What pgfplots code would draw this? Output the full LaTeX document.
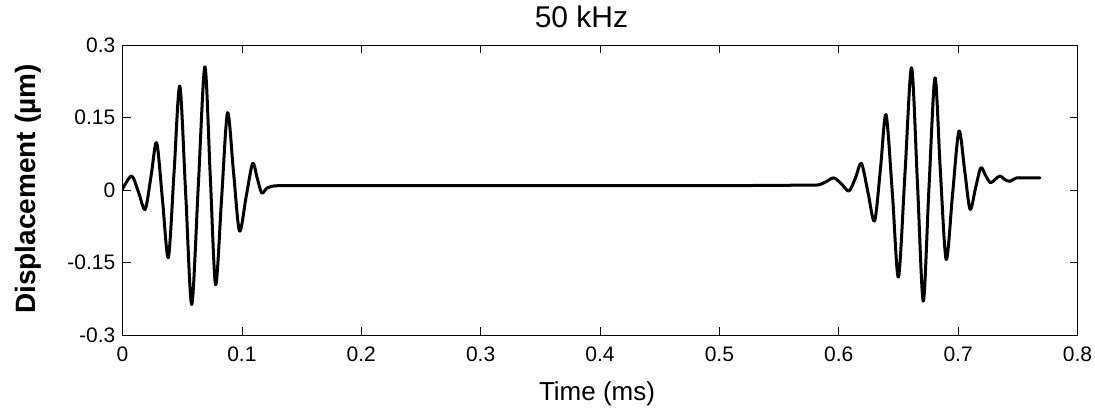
\documentclass[border=0pt]{standalone}
\usepackage{fontspec}
\setmainfont{Liberation Sans}
\usepackage{pgfplots}
\pgfplotsset{compat=1.18}
\begin{document}
\begin{tikzpicture}
\begin{axis}[
  at={(0pt,0pt)}, anchor=south west,
  scale only axis, width=955pt, height=290pt,
  xmin=0, xmax=0.8, ymin=-0.3, ymax=0.3,
  xtick={0,0.1,0.2,0.3,0.4,0.5,0.6,0.7,0.8},
  xticklabels={0,0.1,0.2,0.3,0.4,0.5,0.6,0.7,0.8},
  ytick={-0.3,-0.15,0,0.15,0.3},
  yticklabels={-0.3,-0.15,0,0.15,0.3},
  tick align=inside, major tick length=8pt,
  xtick pos=both, ytick pos=both,
  axis line style={line width=1pt, black},
  tick style={line width=0.6pt, black},
  xticklabel style={font=\fontsize{21}{25}\selectfont, anchor=base, inner sep=0pt, yshift=-26.7pt},
  yticklabel style={font=\fontsize{21}{25}\selectfont, anchor=east, inner sep=0pt, xshift=-7pt},
  title={50 kHz},
  title style={font=\fontsize{30}{36}\selectfont, at={(axis description cs:0.4806,1)}, anchor=base, inner sep=0pt, yshift=11.7pt},
  xlabel={Time (ms)},
  xlabel style={font=\fontsize{26}{31}\selectfont, at={(axis description cs:0.4969,0)}, anchor=base, inner sep=0pt, yshift=-65pt},
  ylabel={Displacement (µm)},
  ylabel style={font=\fontsize{28}{33}\selectfont\bfseries, at={(axis description cs:-0.0906,0.5034)}, anchor=base, inner sep=0pt},
]
\addplot[black, line width=3pt, smooth, tension=0.5, line join=round, line cap=round] coordinates {
(0.0, 0.002)
(0.0077, 0.029)
(0.0135, -0.005)
(0.019, -0.040)
(0.024, 0.03)
(0.0286, 0.098)
(0.0335, -0.02)
(0.0384, -0.140)
(0.0432, 0.037)
(0.048, 0.215)
(0.053, -0.011)
(0.058, -0.237)
(0.0635, 0.009)
(0.069, 0.255)
(0.0735, 0.03)
(0.078, -0.196)
(0.083, -0.018)
(0.088, 0.160)
(0.093, 0.037)
(0.098, -0.085)
(0.1035, -0.015)
(0.109, 0.055)
(0.1128, 0.025)
(0.1166, -0.006)
(0.121, 0.004)
(0.126, 0.008)
(0.131, 0.009)
(0.137, 0.009)
(0.200, 0.009)
(0.300, 0.009)
(0.400, 0.009)
(0.500, 0.009)
(0.570, 0.010)
(0.578, 0.010)
(0.584, 0.011)
(0.590, 0.018)
(0.596, 0.025)
(0.6025, 0.012)
(0.6086, -0.002)
(0.614, 0.025)
(0.619, 0.055)
(0.6245, -0.005)
(0.630, -0.064)
(0.635, 0.045)
(0.6396, 0.156)
(0.645, -0.01)
(0.650, -0.180)
(0.6555, 0.035)
(0.661, 0.253)
(0.666, 0.01)
(0.6708, -0.230)
(0.6755, 0.0)
(0.6806, 0.232)
(0.685, 0.045)
(0.690, -0.144)
(0.6953, -0.01)
(0.7007, 0.122)
(0.7055, 0.04)
(0.710, -0.040)
(0.7145, 0.003)
(0.719, 0.046)
(0.723, 0.03)
(0.727, 0.015)
(0.731, 0.022)
(0.735, 0.029)
(0.739, 0.022)
(0.743, 0.018)
(0.749, 0.025)
(0.755, 0.025)
(0.7686, 0.025)
};
\end{axis}
\pgfresetboundingbox
\path[use as bounding box] (-122.5pt,-72pt) rectangle (972.5pt,335pt);
\end{tikzpicture}
\end{document}
